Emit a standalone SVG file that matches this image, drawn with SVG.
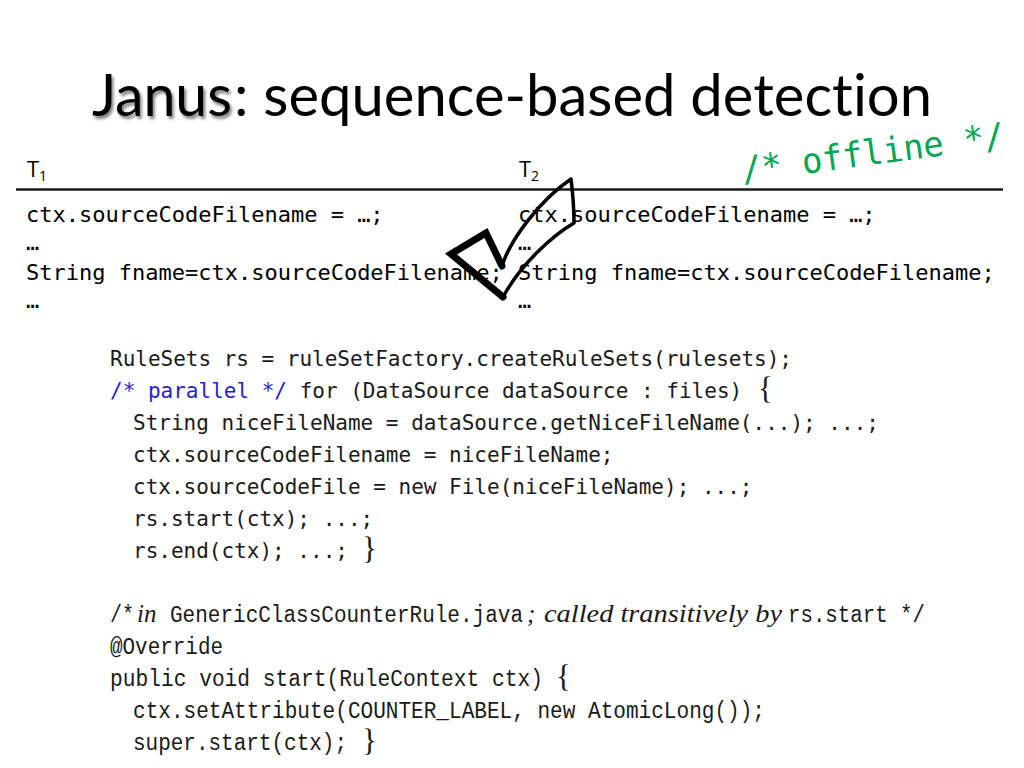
<svg xmlns="http://www.w3.org/2000/svg" width="1024" height="768" viewBox="0 0 1024 768">
<defs>
<filter id="shadow" x="-10%" y="-20%" width="120%" height="150%">
<feGaussianBlur in="SourceAlpha" stdDeviation="1.6" result="b"/>
<feOffset in="b" dx="2" dy="3" result="o"/>
<feComponentTransfer in="o" result="s"><feFuncA type="linear" slope="0.5"/></feComponentTransfer>
<feMerge><feMergeNode in="s"/><feMergeNode in="SourceGraphic"/></feMerge>
</filter>
</defs>
<style>
.title{font-family:"Lato","Open Sans","Noto Sans",sans-serif;font-size:58px;fill:#000;font-variant-ligatures:none;font-feature-settings:"liga" 0}
.hdr{font-family:"Open Sans","Noto Sans",sans-serif;font-size:22px;fill:#000}
.sub{font-family:"Open Sans","Noto Sans",sans-serif;font-size:14px;fill:#000}
.tab{font-family:"DejaVu Sans Mono","Liberation Mono",monospace;font-size:22px;fill:#000}
.code{font-family:"DejaVu Sans Mono","Liberation Mono",monospace;font-size:21px;fill:#1a1a1a}
.code2{font-family:"Liberation Mono","DejaVu Sans Mono",monospace;font-size:23px;fill:#1a1a1a}
.it{font-family:"Liberation Serif","Times New Roman",serif;font-style:italic;font-size:25px;fill:#1a1a1a}
.brace{font-family:"Liberation Serif","Times New Roman",serif;font-size:31px;fill:#1a1a1a}
.blue{fill:#2323d2}
.green{font-family:"DejaVu Sans Mono","Liberation Mono",monospace;font-size:35px;fill:#00a651}
</style>
<rect width="1024" height="768" fill="#fff"/>

<g id="title">
<text x="92" y="116" class="title" filter="url(#shadow)" textLength="140" lengthAdjust="spacingAndGlyphs">Janus</text>
<text x="234" y="116" class="title" textLength="698" lengthAdjust="spacingAndGlyphs">: sequence-based detection</text>
</g>

<g id="offline">
<text class="green" transform="translate(743,182) rotate(-7.6)" textLength="265" lengthAdjust="spacingAndGlyphs">/* offline */</text>
</g>

<g id="table">
<text x="27" y="177" class="hdr">T</text>
<text x="39" y="181" class="sub">1</text>
<text x="519" y="177" class="hdr">T</text>
<text x="531" y="181" class="sub">2</text>
<line x1="16" y1="189.5" x2="1003" y2="189.5" stroke="#1a1a1a" stroke-width="2.5"/>
<text x="26" y="222" class="tab">ctx.sourceCodeFilename = …;</text>
<text x="26" y="250" class="tab">…</text>
<text x="26" y="280" class="tab">String fname=ctx.sourceCodeFilename;</text>
<text x="26" y="308" class="tab">…</text>
<text x="518" y="222" class="tab">ctx.sourceCodeFilename = …;</text>
<text x="518" y="250" class="tab">…</text>
<text x="518" y="280" class="tab">String fname=ctx.sourceCodeFilename;</text>
<text x="518" y="308" class="tab">…</text>
</g>

<g id="checkmark" fill="none" stroke="#000" stroke-linejoin="round" stroke-linecap="round">
<path d="M502,266 C510,240 540,200 571,179 C573,195 574,210 574,223 C555,234 522,262 503,297" stroke-width="3.5"/>
<path d="M503,297 L451,254 L486,233 L502,266" stroke-width="7" stroke-linejoin="miter"/>
</g>

<g id="code-main">
<text x="110" y="366" class="code" textLength="682">RuleSets rs = ruleSetFactory.createRuleSets(rulesets);</text>
<text x="110" y="398" class="code"><tspan class="blue">/* parallel */</tspan> for (DataSource dataSource : files)</text>
<text x="758" y="399" class="brace">{</text>
<text x="133" y="430" class="code">String niceFileName = dataSource.getNiceFileName(...); ...;</text>
<text x="133" y="462" class="code">ctx.sourceCodeFilename = niceFileName;</text>
<text x="133" y="494" class="code">ctx.sourceCodeFile = new File(niceFileName); ...;</text>
<text x="133" y="526" class="code">rs.start(ctx); ...;</text>
<text x="133" y="558" class="code">rs.end(ctx); ...;</text>
<text x="362" y="559" class="brace">}</text>
</g>

<g id="code-rule">
<text x="110" y="622" class="code2" textLength="24" lengthAdjust="spacingAndGlyphs">/*</text>
<text x="137" y="622" class="it">in</text>
<text x="170" y="622" class="code2" textLength="353" lengthAdjust="spacingAndGlyphs">GenericClassCounterRule.java</text>
<text x="527" y="622" class="it">;</text>
<text x="544" y="622" class="it" textLength="238" lengthAdjust="spacingAndGlyphs">called transitively by</text>
<text x="788" y="622" class="code2" textLength="137" lengthAdjust="spacingAndGlyphs">rs.start */</text>
<text x="110" y="654" class="code2" textLength="113" lengthAdjust="spacingAndGlyphs">@Override</text>
<text x="110" y="686" class="code2" textLength="433" lengthAdjust="spacingAndGlyphs">public void start(RuleContext ctx)</text>
<text x="556" y="687" class="brace">{</text>
<text x="133" y="718" class="code2" textLength="632" lengthAdjust="spacingAndGlyphs">ctx.setAttribute(COUNTER_LABEL, new AtomicLong());</text>
<text x="133" y="750" class="code2" textLength="214" lengthAdjust="spacingAndGlyphs">super.start(ctx);</text>
<text x="362" y="751" class="brace">}</text>
</g>
</svg>
